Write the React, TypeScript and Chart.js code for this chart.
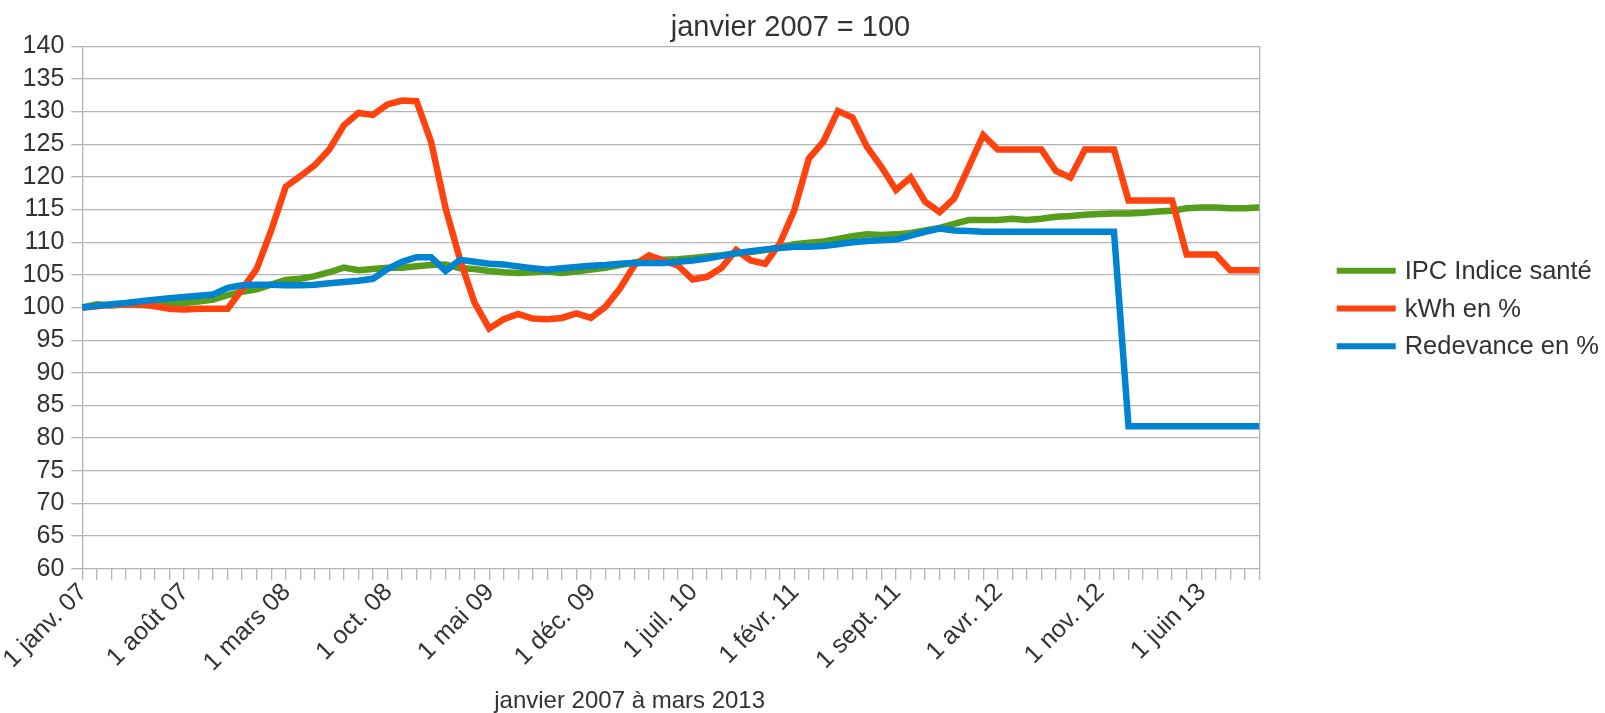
import React, { useEffect, useRef } from 'react';
import { Chart, registerables } from 'chart.js';

Chart.register(...registerables);

const FONT_FAMILY = '"Liberation Sans", Arial, sans-serif';
const TEXT_COLOR = '#333333';
const GRID_COLOR = '#b3b3b3';

const MONTH_NAMES = ['janv.', 'févr.', 'mars', 'avr.', 'mai', 'juin', 'juil.', 'août', 'sept.', 'oct.', 'nov.', 'déc.'];
const YEARS = ['07', '08', '09', '10', '11', '12', '13'];
const MONTH_COUNT = 82;
const LABEL_EVERY = 7;

const categories: string[] = [];
for (let i = 0; i < MONTH_COUNT; i++) {
  categories.push('1 ' + MONTH_NAMES[i % 12] + ' ' + YEARS[Math.floor(i / 12)]);
}

const Y_MIN = 60;
const Y_MAX = 140;
const Y_STEP = 5;

const TITLE = 'janvier 2007 = 100';
const X_TITLE = 'janvier 2007 à mars 2013';

const SERIES_NAMES = ['IPC Indice santé', 'kWh en %', 'Redevance en %'];
const SERIES_COLORS = ['#579d1c', '#ff420e', '#0084d1'];

const ipcSante = [
  100, 100.5, 100.3, 100.5, 100.4, 100.4, 100.6, 100.7, 100.9, 101.2,
  101.9, 102.4, 102.8, 103.5, 104.2, 104.4, 104.8, 105.4, 106.1, 105.7,
  105.9, 106.1, 106.1, 106.3, 106.5, 106.6, 106.0, 105.9, 105.6, 105.4,
  105.3, 105.4, 105.5, 105.3, 105.5, 105.8, 106.1, 106.5, 106.9, 107.2,
  107.3, 107.4, 107.6, 107.8, 108.0, 108.3, 108.5, 108.8, 109.2, 109.7,
  109.9, 110.1, 110.5, 110.9, 111.2, 111.1, 111.2, 111.4, 111.8, 112.2,
  112.8, 113.4, 113.4, 113.4, 113.6, 113.4, 113.6, 113.9, 114.0, 114.2,
  114.3, 114.4, 114.4, 114.5, 114.7, 114.8, 115.2, 115.3, 115.3, 115.2,
  115.2, 115.3,
];

const kwhPct = [
  100, 100.2, 100.4, 100.5, 100.5, 100.2, 99.8, 99.7, 99.8, 99.8,
  99.8, 102.8, 105.9, 111.8, 118.5, 120.1, 121.8, 124.2, 127.9, 129.8,
  129.5, 131.1, 131.7, 131.6, 125.4, 115.2, 107.3, 100.7, 96.8, 98.2,
  99.0, 98.3, 98.2, 98.4, 99.1, 98.4, 100.1, 102.9, 106.5, 108.0,
  107.2, 106.4, 104.3, 104.7, 106.1, 108.8, 107.2, 106.7, 109.8, 114.9,
  122.8, 125.4, 130.1, 129.1, 124.6, 121.5, 118.0, 119.9, 116.2, 114.6,
  116.7, 121.5, 126.4, 124.2, 124.2, 124.2, 124.2, 120.9, 119.9, 124.2,
  124.2, 124.2, 116.4, 116.4, 116.4, 116.4, 108.1, 108.1, 108.1, 105.7,
  105.7, 105.7,
];

const redevancePct = [
  100, 100.25, 100.5, 100.7, 100.95, 101.2, 101.4, 101.6, 101.8, 102.0,
  103.0, 103.4, 103.5, 103.5, 103.4, 103.4, 103.5, 103.7, 103.9, 104.1,
  104.4, 105.9, 107.0, 107.7, 107.7, 105.6, 107.3, 107.0, 106.7, 106.6,
  106.3, 106.0, 105.8, 106.0, 106.2, 106.4, 106.5, 106.7, 106.8, 106.8,
  106.8, 107.0, 107.2, 107.5, 107.9, 108.3, 108.6, 108.9, 109.1, 109.3,
  109.3, 109.4, 109.7, 110.0, 110.2, 110.3, 110.4, 111.0, 111.6, 112.1,
  111.8, 111.7, 111.6, 111.6, 111.6, 111.6, 111.6, 111.6, 111.6, 111.6,
  111.6, 111.6, 81.8, 81.8, 81.8, 81.8, 81.8, 81.8, 81.8, 81.8,
  81.8, 81.8,
];

const textDecor = {
  id: 'textDecor',
  afterDraw(chart: any) {
    const { ctx, chartArea } = chart;
    ctx.save();
    ctx.fillStyle = TEXT_COLOR;
    ctx.textBaseline = 'middle';
    ctx.textAlign = 'center';
    // chart title, centred on the whole picture
    ctx.font = '29px ' + FONT_FAMILY;
    ctx.fillText(TITLE, chart.width / 2 - 12, 28);
    // x axis title, centred on the diagram including its axis labels
    ctx.font = '24px ' + FONT_FAMILY;
    ctx.fillText(X_TITLE, chartArea.right / 2, 701);

    // legend on the right
    const datasets = chart.data.datasets;
    const spacing = 37.7;
    const cy = (chartArea.top + chartArea.bottom) / 2 + 1;
    const x0 = chartArea.right + 77.4;
    ctx.font = '25.5px ' + FONT_FAMILY;
    ctx.textAlign = 'left';
    datasets.forEach((ds: any, i: number) => {
      const y = cy + (i - (datasets.length - 1) / 2) * spacing;
      ctx.strokeStyle = ds.borderColor;
      ctx.lineWidth = 6;
      ctx.beginPath();
      ctx.moveTo(x0, y);
      ctx.lineTo(x0 + 59, y);
      ctx.stroke();
      ctx.fillText(ds.label, x0 + 68, y + 1);
    });
    ctx.restore();
  },
};

export default function App() {
  const canvasRef = useRef<HTMLCanvasElement | null>(null);

  useEffect(() => {
    document.body.style.margin = '0';
    const canvas = canvasRef.current;
    if (!canvas) return;
    const series = [ipcSante, kwhPct, redevancePct];
    const chart = new Chart(canvas, {
      type: 'line',
      data: {
        labels: categories,
        datasets: series.map((values, i) => ({
          label: SERIES_NAMES[i],
          data: values,
          borderColor: SERIES_COLORS[i],
          backgroundColor: SERIES_COLORS[i],
          borderWidth: 6.5,
          pointRadius: 0,
          tension: 0,
          fill: false,
          order: 3 - i,
        })),
      },
      options: {
        responsive: false,
        animation: false,
        devicePixelRatio: 1,
        layout: { padding: { left: 0, right: 345.7, top: 46.3, bottom: 0 } },
        plugins: {
          legend: { display: false },
          tooltip: { enabled: false },
          title: { display: false },
        },
        scales: {
          x: {
            type: 'category',
            offset: false,
            border: { display: true, color: GRID_COLOR, width: 1 },
            grid: {
              drawOnChartArea: true,
              color: (c: any) => (c.index === MONTH_COUNT - 1 ? GRID_COLOR : 'rgba(0,0,0,0)'),
              tickColor: GRID_COLOR,
              tickLength: 11,
              lineWidth: 1.3,
            },
            ticks: {
              autoSkip: false,
              maxRotation: 45,
              minRotation: 45,
              color: TEXT_COLOR,
              padding: -2,
              labelOffset: 1,
              font: { family: FONT_FAMILY, size: 25 },
              callback: (_v: any, idx: number) => (idx % LABEL_EVERY === 0 ? categories[idx] : ''),
            },
            afterFit: (scale: any) => {
              scale.height = 713 - 568.7;
            },
          },
          y: {
            min: Y_MIN,
            max: Y_MAX,
            border: { display: true, color: GRID_COLOR, width: 1.3 },
            grid: { color: GRID_COLOR, lineWidth: 1.3, tickLength: 11, tickColor: GRID_COLOR },
            ticks: {
              stepSize: Y_STEP,
              autoSkip: false,
              color: TEXT_COLOR,
              padding: 7,
              font: { family: FONT_FAMILY, size: 25 },
            },
            afterFit: (scale: any) => {
              scale.width = 82.3;
            },
          },
        },
      },
      plugins: [textDecor],
    });
    return () => chart.destroy();
  }, []);

  return (
    <div style={{ width: 1605, height: 713, position: 'relative', background: '#ffffff' }}>
      <canvas ref={canvasRef} width={1605} height={713} style={{ display: 'block' }} />
    </div>
  );
}
